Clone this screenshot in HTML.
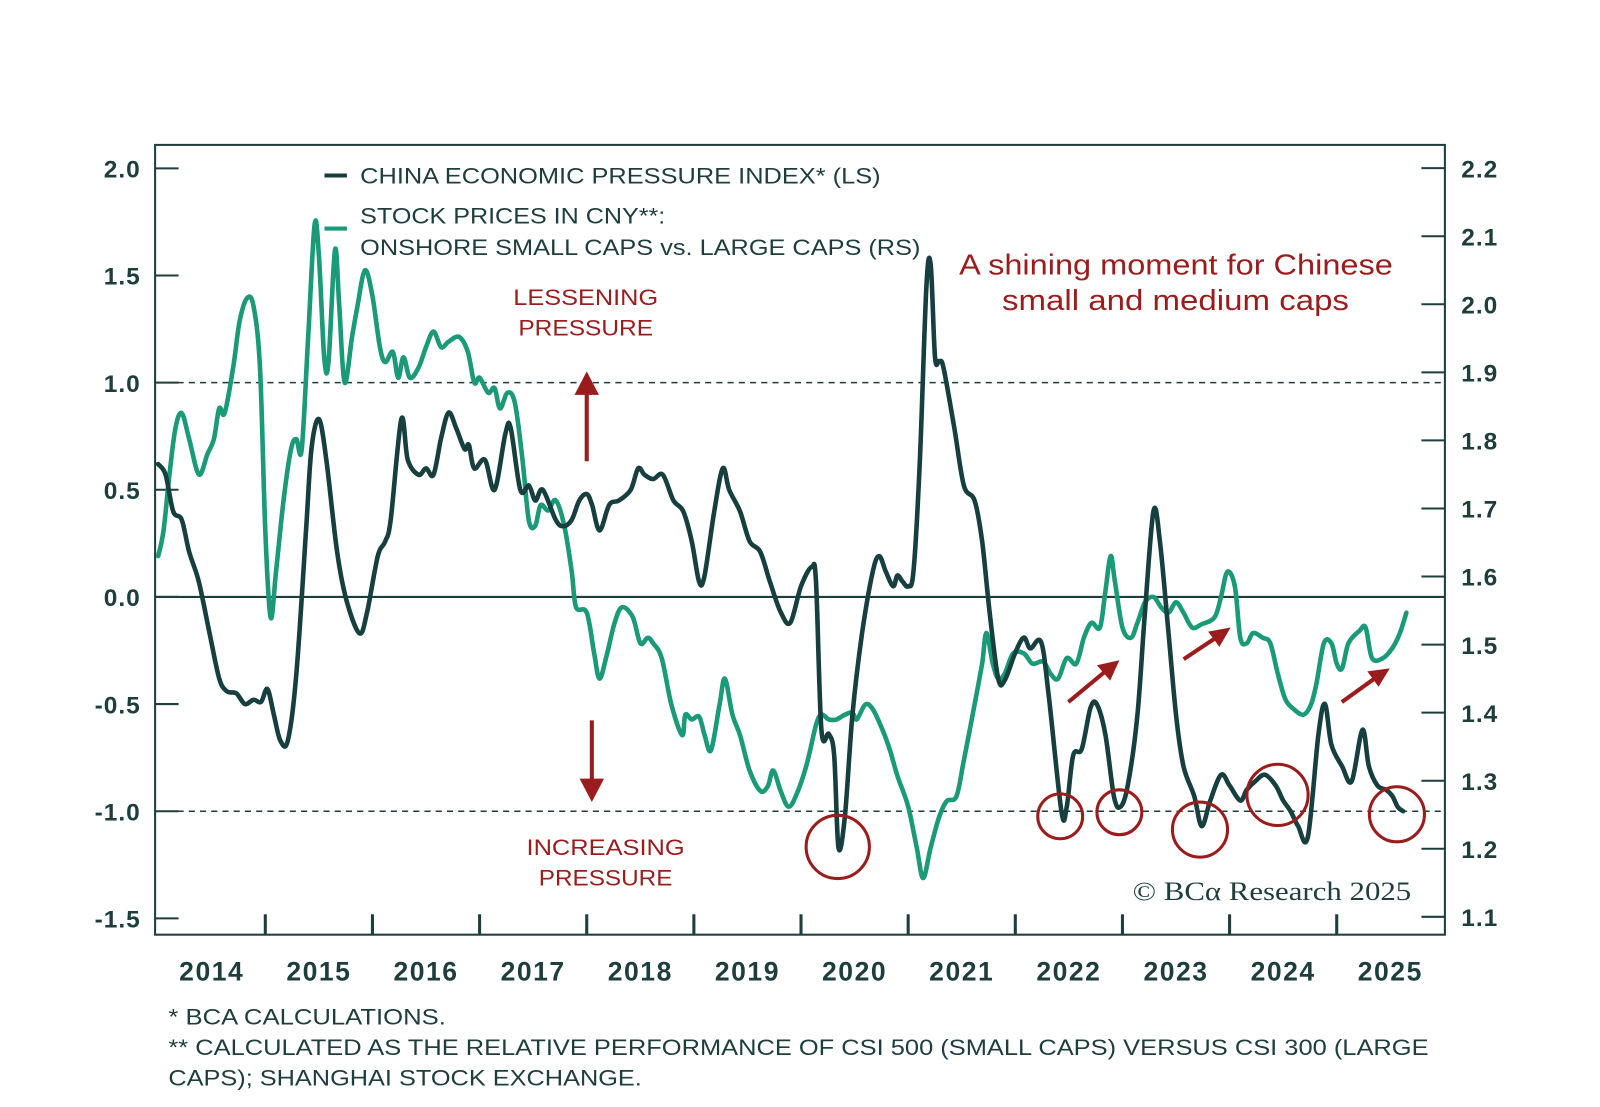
<!DOCTYPE html>
<html><head><meta charset="utf-8"><style>
html,body{margin:0;padding:0;background:#fff;}
svg{display:block;font-family:"Liberation Sans",sans-serif;}
</style></head><body>
<svg id="chart" width="1600" height="1107" viewBox="0 0 1600 1107" xmlns="http://www.w3.org/2000/svg">
<rect x="0" y="0" width="1600" height="1107" fill="#fff"/>
<g transform="scale(1.0204)">
<g id="axes"></g>
<g id="series"></g>
<g id="legend">
  <line x1="318" y1="172" x2="340" y2="172" stroke="#173f3f" stroke-width="4"/>
  <text x="353" y="180" font-size="22" fill="#1e3d3d" textLength="510" lengthAdjust="spacingAndGlyphs">CHINA ECONOMIC PRESSURE INDEX* (LS)</text>
  <line x1="318" y1="224" x2="340" y2="224" stroke="#1a9a78" stroke-width="4"/>
  <text x="353" y="219" font-size="22" fill="#1e3d3d" textLength="299" lengthAdjust="spacingAndGlyphs">STOCK PRICES IN CNY**:</text>
  <text x="353" y="250" font-size="22" fill="#1e3d3d" textLength="549" lengthAdjust="spacingAndGlyphs">ONSHORE SMALL CAPS vs. LARGE CAPS (RS)</text>
</g>
<g id="annotations" fill="#9b1c1c">
  <text x="940" y="269" font-size="28" textLength="425" lengthAdjust="spacingAndGlyphs">A shining moment for Chinese</text>
  <text x="982" y="304" font-size="28" textLength="340" lengthAdjust="spacingAndGlyphs">small and medium caps</text>
  <text x="503" y="299" font-size="22" textLength="142" lengthAdjust="spacingAndGlyphs">LESSENING</text>
  <text x="508" y="329" font-size="22" textLength="132" lengthAdjust="spacingAndGlyphs">PRESSURE</text>
  <text x="516" y="838" font-size="22" textLength="155" lengthAdjust="spacingAndGlyphs">INCREASING</text>
  <text x="528" y="868" font-size="22" textLength="131" lengthAdjust="spacingAndGlyphs">PRESSURE</text>
  <line x1="575" y1="452" x2="575" y2="385" stroke="#9b1c1c" stroke-width="4"/>
  <polygon points="575,364 563,387 587,387"/>
  <line x1="580" y1="706" x2="580" y2="765" stroke="#9b1c1c" stroke-width="4"/>
  <polygon points="580,786 568,763 592,763"/>
  <g stroke="#9b1c1c" stroke-width="4">
    <line x1="1047" y1="688" x2="1082" y2="659"/>
    <line x1="1160" y1="646" x2="1190" y2="626"/>
    <line x1="1315" y1="688" x2="1347" y2="665"/>
  </g>
  <polygon points="1097,647 1075,652 1088,667"/>
  <polygon points="1206,615 1184,619 1195,634"/>
  <polygon points="1362,655 1340,658 1351,673"/>
  <g fill="none" stroke="#9b1c1c" stroke-width="3">
    <circle cx="821" cy="830" r="31"/>
    <circle cx="1039" cy="800" r="22"/>
    <circle cx="1097" cy="796" r="22"/>
    <circle cx="1176" cy="813" r="27"/>
    <circle cx="1252" cy="779" r="30"/>
    <circle cx="1369" cy="798" r="27"/>
  </g>
</g>
<text x="1110" y="882" font-size="26" fill="#1e3d3d" font-family="Liberation Serif, serif" textLength="273" lengthAdjust="spacingAndGlyphs">© BCα Research 2025</text>
<g fill="#1e3d3d" font-size="22">
  <text x="165" y="1004" textLength="272" lengthAdjust="spacingAndGlyphs">* BCA CALCULATIONS.</text>
  <text x="165" y="1034" textLength="1235" lengthAdjust="spacingAndGlyphs">** CALCULATED AS THE RELATIVE PERFORMANCE OF CSI 500 (SMALL CAPS) VERSUS CSI 300 (LARGE</text>
  <text x="165" y="1064" textLength="464" lengthAdjust="spacingAndGlyphs">CAPS); SHANGHAI STOCK EXCHANGE.</text>
</g>
</g>
</svg>
<script>
const leftTicks = [2.0, 1.5, 1.0, 0.5, 0.0, -0.5, -1.0, -1.5];
const leftTickLabels = ["2.0","1.5","1.0","0.5","0.0","-0.5","-1.0","-1.5"];
const rightTicks = [2.2, 2.1, 2.0, 1.9, 1.8, 1.7, 1.6, 1.5, 1.4, 1.3, 1.2, 1.1];
const rightTickLabels = ["2.2","2.1","2.0","1.9","1.8","1.7","1.6","1.5","1.4","1.3","1.2","1.1"];
const years = [2014,2015,2016,2017,2018,2019,2020,2021,2022,2023,2024,2025];
const pressureDates = [2014.00,2014.07,2014.14,2014.22,2014.29,2014.38,2014.48,2014.57,2014.64,2014.73,2014.81,2014.89,2014.96,2015.02,2015.08,2015.14,2015.21,2015.29,2015.38,2015.43,2015.50,2015.57,2015.67,2015.76,2015.88,2015.95,2016.05,2016.12,2016.17,2016.27,2016.33,2016.43,2016.50,2016.57,2016.64,2016.71,2016.78,2016.86,2016.90,2016.95,2017.05,2017.14,2017.24,2017.29,2017.38,2017.46,2017.52,2017.59,2017.71,2017.78,2017.86,2017.93,2018.00,2018.05,2018.12,2018.21,2018.30,2018.41,2018.48,2018.54,2018.62,2018.71,2018.81,2018.90,2018.98,2019.05,2019.10,2019.19,2019.27,2019.33,2019.43,2019.52,2019.62,2019.71,2019.81,2019.90,2020.00,2020.10,2020.14,2020.19,2020.26,2020.31,2020.35,2020.41,2020.48,2020.57,2020.67,2020.73,2020.79,2020.86,2020.90,2020.95,2021.00,2021.05,2021.11,2021.17,2021.21,2021.25,2021.29,2021.33,2021.43,2021.52,2021.62,2021.69,2021.76,2021.84,2021.90,2022.00,2022.08,2022.14,2022.24,2022.31,2022.43,2022.48,2022.54,2022.62,2022.70,2022.76,2022.84,2022.92,2022.98,2023.05,2023.14,2023.21,2023.29,2023.35,2023.43,2023.50,2023.57,2023.67,2023.74,2023.82,2023.92,2024.00,2024.10,2024.16,2024.24,2024.33,2024.43,2024.50,2024.57,2024.64,2024.73,2024.83,2024.89,2024.95,2025.05,2025.14,2025.24,2025.30,2025.38,2025.46,2025.52,2025.57,2025.62];
const pressureValues = [0.62,0.57,0.40,0.36,0.21,0.07,-0.17,-0.38,-0.44,-0.45,-0.50,-0.48,-0.49,-0.43,-0.55,-0.67,-0.67,-0.36,0.31,0.69,0.83,0.64,0.21,-0.02,-0.17,-0.07,0.19,0.26,0.36,0.83,0.64,0.57,0.60,0.57,0.74,0.86,0.79,0.69,0.71,0.60,0.64,0.50,0.76,0.79,0.50,0.52,0.45,0.50,0.36,0.33,0.36,0.45,0.48,0.43,0.31,0.43,0.45,0.50,0.60,0.57,0.55,0.57,0.45,0.40,0.26,0.07,0.10,0.40,0.60,0.50,0.40,0.26,0.21,0.07,-0.07,-0.12,0.05,0.14,0.07,-0.62,-0.64,-0.74,-1.17,-1.02,-0.55,-0.17,0.12,0.19,0.12,0.05,0.10,0.07,0.05,0.12,0.64,1.45,1.55,1.12,1.10,1.07,0.79,0.52,0.45,0.26,-0.07,-0.38,-0.39,-0.26,-0.19,-0.24,-0.21,-0.45,-1.00,-0.98,-0.74,-0.71,-0.52,-0.50,-0.64,-0.93,-0.98,-0.88,-0.55,-0.07,0.40,0.26,-0.17,-0.55,-0.79,-0.93,-1.07,-0.95,-0.83,-0.88,-0.95,-0.90,-0.86,-0.83,-0.88,-0.95,-1.00,-1.07,-1.12,-0.64,-0.50,-0.69,-0.79,-0.86,-0.62,-0.79,-0.88,-0.90,-0.93,-0.98,-1.00];
const stockDates = [2014.00,2014.05,2014.10,2014.16,2014.22,2014.29,2014.38,2014.46,2014.52,2014.57,2014.62,2014.70,2014.76,2014.83,2014.89,2014.95,2015.00,2015.05,2015.10,2015.17,2015.24,2015.29,2015.34,2015.40,2015.46,2015.50,2015.55,2015.59,2015.65,2015.69,2015.74,2015.81,2015.86,2015.93,2016.00,2016.07,2016.12,2016.19,2016.24,2016.29,2016.35,2016.43,2016.50,2016.57,2016.64,2016.71,2016.81,2016.89,2016.95,2017.00,2017.08,2017.14,2017.19,2017.26,2017.33,2017.40,2017.46,2017.52,2017.57,2017.64,2017.71,2017.79,2017.86,2017.90,2018.00,2018.07,2018.12,2018.19,2018.26,2018.33,2018.43,2018.50,2018.57,2018.62,2018.70,2018.79,2018.89,2018.92,2018.98,2019.05,2019.10,2019.16,2019.24,2019.29,2019.36,2019.43,2019.52,2019.62,2019.69,2019.74,2019.81,2019.88,2019.95,2020.05,2020.14,2020.19,2020.26,2020.33,2020.41,2020.48,2020.52,2020.60,2020.67,2020.76,2020.83,2020.90,2021.00,2021.08,2021.14,2021.21,2021.29,2021.36,2021.45,2021.52,2021.62,2021.69,2021.73,2021.79,2021.84,2021.90,2021.98,2022.08,2022.16,2022.26,2022.33,2022.40,2022.48,2022.57,2022.64,2022.71,2022.79,2022.84,2022.89,2022.93,2023.00,2023.08,2023.14,2023.21,2023.29,2023.36,2023.43,2023.50,2023.57,2023.65,2023.74,2023.86,2023.92,2023.98,2024.05,2024.10,2024.16,2024.22,2024.31,2024.38,2024.45,2024.52,2024.60,2024.69,2024.76,2024.81,2024.88,2024.95,2025.00,2025.05,2025.11,2025.21,2025.27,2025.33,2025.43,2025.52,2025.59,2025.65];
const stockValues = [1.63,1.667,1.742,1.817,1.84,1.802,1.75,1.78,1.802,1.847,1.84,1.907,1.975,2.009,1.997,1.907,1.667,1.54,1.607,1.712,1.787,1.802,1.787,1.952,2.117,2.072,1.922,1.915,2.08,1.997,1.885,1.952,1.997,2.05,2.012,1.937,1.915,1.93,1.892,1.922,1.892,1.907,1.937,1.96,1.937,1.945,1.952,1.93,1.885,1.892,1.87,1.877,1.847,1.87,1.855,1.772,1.682,1.675,1.705,1.697,1.712,1.675,1.607,1.555,1.547,1.487,1.45,1.487,1.532,1.555,1.54,1.502,1.51,1.502,1.48,1.412,1.367,1.397,1.39,1.394,1.367,1.345,1.412,1.45,1.397,1.367,1.315,1.285,1.292,1.315,1.285,1.262,1.277,1.322,1.382,1.397,1.39,1.39,1.397,1.40,1.39,1.412,1.405,1.375,1.345,1.307,1.262,1.202,1.157,1.202,1.247,1.27,1.277,1.33,1.412,1.472,1.517,1.472,1.45,1.457,1.487,1.487,1.472,1.475,1.457,1.45,1.48,1.472,1.51,1.532,1.525,1.577,1.63,1.592,1.525,1.51,1.532,1.562,1.57,1.555,1.547,1.562,1.547,1.525,1.53,1.54,1.57,1.607,1.585,1.51,1.502,1.517,1.51,1.502,1.457,1.42,1.405,1.397,1.412,1.442,1.502,1.502,1.472,1.465,1.502,1.52,1.525,1.48,1.48,1.495,1.517,1.547];

const NS = "http://www.w3.org/2000/svg";
const PL = 152, PR = 1416, PT = 142, PB = 916;
function xScale(t){ return 155 + (t - 2014) * 105; }
function yLeft(v){ return 585 - v * 210; }
function yRight(v){ return 565 - (v - 1.6) * 667; }
function mk(tag, attrs, parent){
  const el = document.createElementNS(NS, tag);
  for (const k in attrs) el.setAttribute(k, attrs[k]);
  parent.appendChild(el);
  return el;
}
const axes = document.getElementById('axes');
const series = document.getElementById('series');
const ink = "#1e3d3d";

const frame = mk('rect', {x:PL, y:PT, width:PR-PL, height:PB-PT, fill:'none', stroke:ink, 'stroke-width':2}, axes);



[1.0, -1.0].forEach(function(v){
  const l = mk('line', {x1:PL, x2:PR, y1:yLeft(v), y2:yLeft(v), stroke:ink, 'stroke-width':1.5, 'stroke-dasharray':'6 5'}, axes);
  
  
});
const zl = mk('line', {x1:PL, x2:PR, y1:yLeft(0), y2:yLeft(0), stroke:ink, 'stroke-width':2}, axes);



leftTicks.forEach(function(v, i){
  const y = yLeft(v);
  const t = mk('line', {x1:PL, x2:PL+23, y1:y, y2:y, stroke:ink, 'stroke-width':2}, axes);
  
  
  const lb = mk('text', {x:138, y:y+9, 'text-anchor':'end', 'font-size':24, 'font-weight':'bold', fill:ink, 'letter-spacing':1}, axes);
  lb.textContent = leftTickLabels[i];
  
  
});
rightTicks.forEach(function(v, i){
  const y = yRight(v);
  const t = mk('line', {x1:PR-23, x2:PR, y1:y, y2:y, stroke:ink, 'stroke-width':2}, axes);
  
  
  const lb = mk('text', {x:1432, y:y+9, 'text-anchor':'start', 'font-size':24, 'font-weight':'bold', fill:ink, 'letter-spacing':1}, axes);
  lb.textContent = rightTickLabels[i];
  
  
});
years.forEach(function(yr){
  const x = xScale(yr);
  if (yr > 2014) {
    const t = mk('line', {x1:x, x2:x, y1:PB-20, y2:PB, stroke:ink, 'stroke-width':3}, axes);
    
    
  }
  const lb = mk('text', {x:xScale(yr + 0.5), y:961, 'text-anchor':'middle', 'font-size':26, 'font-weight':'bold', fill:ink, 'letter-spacing':1.5}, axes);
  lb.textContent = String(yr);
  
  
});

function smoothPath(pts){
  let d = 'M' + pts[0][0].toFixed(1) + ',' + pts[0][1].toFixed(1);
  for (let i = 0; i < pts.length - 1; i++){
    const p0 = pts[Math.max(0, i-1)], p1 = pts[i], p2 = pts[i+1], p3 = pts[Math.min(pts.length-1, i+2)];
    const c1x = p1[0] + (p2[0]-p0[0])/6, c1y = p1[1] + (p2[1]-p0[1])/6;
    const c2x = p2[0] - (p3[0]-p1[0])/6, c2y = p2[1] - (p3[1]-p1[1])/6;
    d += ' C' + c1x.toFixed(1) + ',' + c1y.toFixed(1) + ' ' + c2x.toFixed(1) + ',' + c2y.toFixed(1) + ' ' + p2[0].toFixed(1) + ',' + p2[1].toFixed(1);
  }
  return d;
}
const gPts = stockDates.map(function(t, i){ return [xScale(t), yRight(stockValues[i])]; });
const gLine = mk('path', {d:smoothPath(gPts), fill:'none', stroke:'#1a9a78', 'stroke-width':4.5, 'stroke-linejoin':'round', 'stroke-linecap':'round'}, series);


const dPts = pressureDates.map(function(t, i){ return [xScale(t), yLeft(pressureValues[i])]; });
const dLine = mk('path', {d:smoothPath(dPts), fill:'none', stroke:'#173f3f', 'stroke-width':4.5, 'stroke-linejoin':'round', 'stroke-linecap':'round'}, series);


</script>
</body></html>
